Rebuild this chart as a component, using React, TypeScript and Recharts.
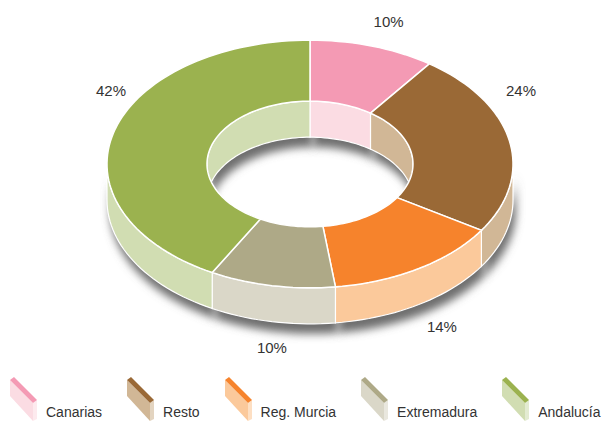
import React from 'react';
import { PieChart, Pie, Cell, Legend } from 'recharts';

// data
const regions = ['Canarias', 'Resto', 'Reg. Murcia', 'Extremadura', 'Andalucía'];
const shares = [10, 24, 14, 10, 42];

// styles
const topColors = ['#F49AB4', '#9A6936', '#F6832C', '#AEA987', '#9BB24F'];
const sideColors = ['#FBDCE3', '#D1B796', '#FBC99B', '#DAD7C8', '#D1DDB2'];

const data = regions.map((name, i) => ({ name, value: shares[i] }));

const K = 0.61; // vertical squash of the tilted ring
const DEPTH = 36;
const RAD = Math.PI / 180;

const pt = (cx: number, cy: number, r: number, a: number, dy = 0) => [
  cx + r * Math.cos(a * RAD),
  cy - K * r * Math.sin(a * RAD) + dy,
];

const arcPts = (cx: number, cy: number, r: number, a1: number, a2: number, dy = 0) => {
  const n = Math.max(2, Math.ceil(Math.abs(a2 - a1) / 2));
  const pts: number[][] = [];
  for (let i = 0; i <= n; i++) pts.push(pt(cx, cy, r, a1 + ((a2 - a1) * i) / n, dy));
  return pts;
};

const toPath = (pts: number[][]) =>
  'M' + pts.map((p) => p[0].toFixed(2) + ',' + p[1].toFixed(2)).join('L') + 'Z';

// parts of [lo,hi] that face the viewer: front half for outer wall, back half for inner wall
const visibleRanges = (lo: number, hi: number, front: boolean) => {
  const res: number[][] = [];
  for (let n = -2; n <= 2; n++) {
    const s = (front ? 180 : 0) + 360 * n;
    const a = Math.max(lo, s);
    const b = Math.min(hi, s + 180);
    if (b > a) res.push([a, b]);
  }
  return res;
};

const wallPaths = (props: any) => {
  const { cx, cy, innerRadius, outerRadius, startAngle, endAngle } = props;
  const lo = Math.min(startAngle, endAngle);
  const hi = Math.max(startAngle, endAngle);
  const out: string[] = [];
  visibleRanges(lo, hi, true).forEach(([a, b]) => {
    out.push(toPath([...arcPts(cx, cy, outerRadius, a, b), ...arcPts(cx, cy, outerRadius, b, a, DEPTH)]));
  });
  visibleRanges(lo, hi, false).forEach(([a, b]) => {
    out.push(toPath([...arcPts(cx, cy, innerRadius, a, b), ...arcPts(cx, cy, innerRadius, b, a, DEPTH)]));
  });
  return out;
};

const ShadowShape = (props: any) => (
  <g filter="url(#ringShadow)" transform="translate(3,10)">
    {wallPaths(props).map((d, i) => (
      <path key={i} d={d} fill="#6e6e6e" />
    ))}
  </g>
);

const WallShape = (props: any) => (
  <g>
    {wallPaths(props).map((d, i) => (
      <path key={i} d={d} fill={sideColors[props.index]} stroke="#fff" strokeWidth={1.2} />
    ))}
  </g>
);

const TopShape = (props: any) => {
  const { cx, cy, innerRadius, outerRadius, startAngle, endAngle, fill } = props;
  const d = toPath([
    ...arcPts(cx, cy, outerRadius, startAngle, endAngle),
    ...arcPts(cx, cy, innerRadius, endAngle, startAngle),
  ]);
  return <path d={d} fill={fill} stroke="#fff" strokeWidth={1.5} />;
};

const renderLabel = (props: any) => {
  const { cx, cy, midAngle, outerRadius, percent } = props;
  const rx = outerRadius + 32;
  const ry = K * outerRadius + 26;
  const a = midAngle * RAD;
  let dx = rx * Math.cos(a);
  const maxDx = 205;
  if (Math.abs(dx) > maxDx) dx = Math.sign(dx) * maxDx;
  const c = Math.sqrt(Math.max(0, 1 - (dx / rx) ** 2)) * (Math.sin(a) < 0 ? -1 : 1);
  const y = cy - ry * c + (c < 0 ? DEPTH : 0);
  return (
    <text x={cx + dx + 6} y={y} textAnchor="middle" dominantBaseline="central" fontSize={15} fill="#333">
      {`${Math.round(percent * 100)}%`}
    </text>
  );
};

const LegendIcon = ({ top, side }: { top: string; side: string }) => (
  <svg width={28} height={46} style={{ display: 'block', flex: 'none' }}>
    <polygon points="0,5 23,28 23,46 0,21" fill={side} />
    <polygon points="23,28 27,25 27,44 23,46" fill={side} opacity={0.6} />
    <polygon points="0,5 4,2 27,25 23,28" fill={top} />
  </svg>
);

const LegendContent = (props: any) => {
  const names = new Set((props.payload || []).map((p: any) => p.value));
  return (
    <div style={{ display: 'flex', alignItems: 'flex-end', whiteSpace: 'nowrap' }}>
      {regions
        .filter((r) => names.has(r))
        .map((r, i) => (
          <div key={r} style={{ display: 'flex', alignItems: 'flex-end', marginRight: 25 }}>
            <LegendIcon top={topColors[i]} side={sideColors[i]} />
            <span style={{ fontSize: 14, color: '#333', marginLeft: 8, lineHeight: '16px', marginBottom: 1 }}>
              {r}
            </span>
          </div>
        ))}
    </div>
  );
};

export default function App() {
  return (
    <div
      style={{
        position: 'absolute',
        left: 0,
        top: 0,
        width: 607,
        height: 421,
        background: '#fff',
        fontFamily: '"Liberation Sans", Arial, sans-serif',
      }}
    >
      <PieChart width={607} height={421} margin={{ top: 0, right: 0, bottom: 0, left: 0 }}>
        <defs>
          <filter id="ringShadow" x="-20%" y="-20%" width="140%" height="140%">
            <feGaussianBlur stdDeviation="4" />
          </filter>
        </defs>
        <Pie
          data={data}
          dataKey="value"
          nameKey="name"
          cx={310}
          cy={164}
          innerRadius={103}
          outerRadius={203}
          startAngle={90}
          endAngle={-270}
          shape={ShadowShape}
          legendType="none"
          isAnimationActive={false}
        />
        <Pie
          data={data}
          dataKey="value"
          nameKey="name"
          cx={310}
          cy={164}
          innerRadius={103}
          outerRadius={203}
          startAngle={90}
          endAngle={-270}
          shape={WallShape}
          legendType="none"
          isAnimationActive={false}
        />
        <Pie
          data={data}
          dataKey="value"
          nameKey="name"
          cx={310}
          cy={164}
          innerRadius={103}
          outerRadius={203}
          startAngle={90}
          endAngle={-270}
          shape={TopShape}
          label={renderLabel}
          labelLine={false}
          isAnimationActive={false}
        >
          {data.map((d, i) => (
            <Cell key={d.name} fill={topColors[i]} />
          ))}
        </Pie>
        <Legend
          verticalAlign="bottom"
          align="left"
          content={LegendContent}
          wrapperStyle={{ left: 10, bottom: 0, width: 'auto' }}
        />
      </PieChart>
    </div>
  );
}
